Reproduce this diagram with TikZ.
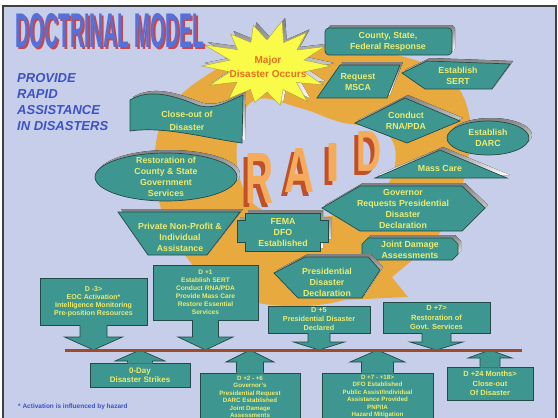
\documentclass[tikz,border=0pt]{standalone}
\usepackage{graphicx}
\usepackage{fontspec}
\setmainfont{Liberation Sans}
\usetikzlibrary{calc}
\definecolor{slide}{RGB}{198,206,234}
\definecolor{boxteal}{RGB}{62,150,144}
\definecolor{boxedge}{RGB}{36,74,72}
\definecolor{boxtext}{RGB}{236,236,110}
\definecolor{swirl}{RGB}{232,170,62}
\definecolor{shade}{RGB}{140,142,152}
\definecolor{titleblue}{RGB}{84,112,218}
\definecolor{titlered}{RGB}{205,70,70}
\definecolor{slogan}{RGB}{62,82,196}
\definecolor{starfill}{RGB}{250,250,72}
\definecolor{startext}{RGB}{228,112,30}
\definecolor{raidface}{RGB}{244,172,92}
\definecolor{raidside}{RGB}{192,80,40}
\definecolor{railbrown}{RGB}{156,76,44}
\tikzset{
  shp/.style={fill=boxteal, draw=boxedge, line width=0.7pt},
  lbl/.style={text=boxtext, font=\bfseries\fontsize{8.8}{11}\selectfont, align=center, inner sep=0pt},
  daybox/.style={shp, text=boxtext, font=\bfseries\fontsize{6.6}{8}\selectfont, align=center, inner sep=0pt},
}
\def\shadowed#1{\fill[shade,shift={(3,-3)}] #1; \filldraw[shp] #1;}
\def\raildown(#1)(#2:#3:#4){%
  \coordinate (#1-tip) at (#1.south |- rail);
  \fill[boxteal] ($(#1.south)+(-#2,-1)$) -- ($(#1-tip)+(-#2,-#4)$) -- ($(#1-tip)+(-#3,-#4)$) -- (#1-tip) -- ($(#1-tip)+(#3,-#4)$) -- ($(#1-tip)+(#2,-#4)$) -- ($(#1.south)+(#2,-1)$) -- cycle;
  \draw[boxedge, line width=0.7pt] ($(#1.south)+(-#2,0)$) -- ($(#1-tip)+(-#2,-#4)$) -- ($(#1-tip)+(-#3,-#4)$) -- (#1-tip) -- ($(#1-tip)+(#3,-#4)$) -- ($(#1-tip)+(#2,-#4)$) -- ($(#1.south)+(#2,0)$);}
\def\railup(#1)(#2:#3:#4){%
  \coordinate (#1-tip) at (#1.north |- rail);
  \fill[boxteal] ($(#1.north)+(-#2,1)$) -- ($(#1-tip)+(-#2,#4)$) -- ($(#1-tip)+(-#3,#4)$) -- (#1-tip) -- ($(#1-tip)+(#3,#4)$) -- ($(#1-tip)+(#2,#4)$) -- ($(#1.north)+(#2,1)$) -- cycle;
  \draw[boxedge, line width=0.7pt] ($(#1.north)+(-#2,0)$) -- ($(#1-tip)+(-#2,#4)$) -- ($(#1-tip)+(-#3,#4)$) -- (#1-tip) -- ($(#1-tip)+(#3,#4)$) -- ($(#1-tip)+(#2,#4)$) -- ($(#1.north)+(#2,0)$);}

\begin{document}
\begin{tikzpicture}[x=1pt, y=-1pt]
	%%%%% START %%%%%
	\useasboundingbox (0,0) rectangle (558,418);
	\fill[white] (0,0) rectangle (558,418);
	\fill[slide] (4,7) rectangle (556,418);
	\draw[black!75, line width=1.5pt] (3,418) -- (3,6) -- (556,6) -- (556,418);
	
	% swirl
	\fill[swirl, even odd rule] plot[smooth cycle, tension=0.7] coordinates {(300,47) (380,52) (440,72) (468,110) (466,170) (445,225) (410,262) (360,295) (290,306) (225,292) (185,255) (160,205) (155,150) (172,105) (215,70) (255,52)}
		plot[smooth cycle, tension=0.7] coordinates {(255,100) (300,108) (340,122) (385,132) (395,165) (375,198) (330,216) (270,213) (242,185) (238,135)};
	\fill[swirl] (370,250) -- (408,297) -- (300,302) -- cycle;
	
	% RAID
	\foreach \ch/\x/\y/\w/\h in {R/260/178/28/50, A/300/170/30/44, I/333/162/15/38, D/369/151/25/40} {
		\node[text=raidside, inner sep=0pt] (raid\ch-side) at ({\x-4},{\y+4}) {\resizebox{\w pt}{\h pt}{\bfseries\ch}};
		\node[text=raidface, inner sep=0pt] (raid\ch) at (\x,\y) {\resizebox{\w pt}{\h pt}{\bfseries\ch}};
	}
	
	% star
	\def\starpath{(331,66) -- (304,71.9) -- (323.4,84.9) -- (296.5,82.4) -- (307.2,101.4) -- (283.1,89.6) -- (280.2,105.4) -- (267,92) -- (254.8,102.4) -- (250.4,89.4) -- (228.8,98.5) -- (237.1,82) -- (209.5,85.3) -- (230,71.9) -- (201.7,66) -- (230,60.1) -- (204.9,45.2) -- (237.5,49.6) -- (230.7,34.1) -- (250.9,42.4) -- (253.3,25.3) -- (267,40) -- (282.1,21) -- (283.6,42.6) -- (306.5,32.5) -- (297,50) -- (324.5,46.7) -- (304,60.1) -- cycle}
	\fill[shade, shift={(3,-3)}] \starpath;
	\filldraw[fill=starfill, draw=yellow!60!black, line width=0.4pt] \starpath;
	\node[text=startext, font=\bfseries\fontsize{10}{14}\selectfont, align=center, inner sep=0pt] (major) at (268,67) {Major\\Disaster Occurs};
	
	% title
	\node[text=titlered, inner sep=0pt] (titleshadow) at (112,33) {\resizebox{188pt}{34pt}{\bfseries DOCTRINAL MODEL}};
	\node[text=titleblue, inner sep=0pt] (title) at (110,31) {\resizebox{188pt}{34pt}{\bfseries DOCTRINAL MODEL}};
	\node[text=slogan, font=\bfseries\itshape\fontsize{13}{16}\selectfont, align=left, anchor=north west, inner sep=0pt] (slogan) at (17,73) {PROVIDE\\RAPID\\ASSISTANCE\\IN DISASTERS};
	
	% shapes round the swirl
	\shadowed{[rounded corners=4pt] (325,28) rectangle (452,55)}
	\node[lbl] (county) at (388,41.5) {County, State,\\Federal Response};
	
	\shadowed{(340,65) -- (400,65) -- (387,98) -- (317,98) -- cycle}
	\node[lbl] (msca) at (358,82) {Request\\MSCA};
	
	\shadowed{(402,73) -- (427,61) -- (510,64) -- (492,89) -- (425,89) -- cycle}
	\node[lbl] (sert) at (458,76) {Establish\\SERT};
	
	\shadowed{(355,123) -- (405,98) -- (460,121) -- (407,143) -- cycle}
	\node[lbl] (rna) at (406,121) {Conduct\\RNA/PDA};
	
	\shadowed{(488,138) ellipse [x radius=41, y radius=17]}
	\node[lbl] (darc) at (488,138) {Establish\\DARC};
	
	\shadowed{(375,178) -- (440,150) -- (507,178) -- cycle}
	\node[lbl] (masscare) at (440,168) {Mass Care};
	
	\shadowed{(322,208) -- (360,186) -- (462,186) -- (485,208) -- (462,231) -- (360,231) -- cycle}
	\node[lbl] (governor) at (403,209) {Governor\\Requests Presidential\\Disaster\\Declaration};
	
	\shadowed{(368,238) -- (452,238) -- (458,244) -- (458,254) -- (452,260) -- (368,260) -- (362,254) -- (362,244) -- cycle}
	\node[lbl] (joint) at (410,249.5) {Joint Damage\\Assessments};
	
	\shadowed{(274,273) -- (305,257) -- (368,257) -- (380,270) -- (362,298) -- (298,298) -- cycle}
	\node[lbl] (presdecl) at (327,282) {Presidential\\Disaster\\Declaration};
	
	\shadowed{(245,213) -- (320,213) -- (320,220) -- (328,220) -- (328,242) -- (320,242) -- (320,251) -- (245,251) -- (245,242) -- (237,242) -- (237,220) -- (245,220) -- cycle}
	\node[lbl] (fema) at (283,233) {FEMA\\DFO\\Established};
	
	\shadowed{(118,212) -- (240,212) -- (207,255) -- (148,255) -- cycle}
	\node[lbl] (privnp) at (180,237) {Private Non-Profit \&\\Individual\\Assistance};
	
	\shadowed{(166,177) ellipse [x radius=71, y radius=24]}
	\node[lbl] (restore) at (166,177) {Restoration of\\County \& State\\Government\\Services};
	
	\shadowed{(130,100) .. controls (150,88) and (175,96) .. (197,105) .. controls (215,111) and (230,100) .. (243,95) -- (242,143) .. controls (205,138) and (165,126) .. (130,131) -- cycle}
	\node[lbl, font=\bfseries\fontsize{8.8}{13}\selectfont] (closeout) at (187,121) {Close-out of\\Disaster};
	
	% time line
	\coordinate (rail) at (0,350);
	\coordinate (railstart) at (65,350);
	\coordinate (railend) at (522,350);
	
	\node[daybox, font=\bfseries\fontsize{7}{8}\selectfont, minimum width=107pt, minimum height=47pt] (dminus) at (93.5,301.5) {D -3>\\EOC Activation*\\Intelligence Monitoring\\Pre-position Resources};
	\node[daybox, minimum width=105pt, minimum height=55pt] (dplusone) at (205.5,292.5) {D +1\\Establish SERT\\Conduct RNA/PDA\\Provide Mass Care\\Restore Essential\\Services};
	\node[daybox, font=\bfseries\fontsize{7.3}{9}\selectfont, minimum width=102pt, minimum height=27pt] (dplusfive) at (319,319.5) {D +5\\Presidential Disaster\\Declared};
	\node[daybox, font=\bfseries\fontsize{7.5}{9.5}\selectfont, minimum width=107pt, minimum height=31pt] (dplusseven) at (436.5,317.5) {D +7>\\Restoration of\\Govt. Services};
	\node[daybox, font=\bfseries\fontsize{8}{9.5}\selectfont, minimum width=100pt, minimum height=24pt] (dzero) at (140,375) {0-Day\\Disaster Strikes};
	\node[daybox, font=\bfseries\fontsize{6.2}{7.5}\selectfont, minimum width=100pt, minimum height=48pt] (dplustwo) at (250,397) {D +2 - +6\\Governor's\\Presidential Request\\DARC Established\\Joint Damage\\Assessments};
	\node[daybox, font=\bfseries\fontsize{6.2}{7.4}\selectfont, minimum width=111pt, minimum height=47pt] (dpluseighteen) at (377.5,396.5) {D +7 - +18>\\DFO Established\\Public Assist/Individual\\Assistance Provided\\PNP/IA\\Hazard Mitigation};
	\node[daybox, font=\bfseries\fontsize{7.5}{9.5}\selectfont, minimum width=86pt, minimum height=33pt] (dplusyear) at (490,383.5) {D +24 Months>\\Close-out\\Of Disaster};
	
	\raildown(dminus)(13.5:29:13)
	\raildown(dplusone)(13:27.5:13)
	\raildown(dplusfive)(11:25.5:8)
	\raildown(dplusseven)(14.5:26.5:8)
	\railup(dzero)(12.5:25:11)
	\railup(dplustwo)(13.5:24:12)
	\railup(dpluseighteen)(16:27.5:12)
	\railup(dplusyear)(10:22:8)
	
	\draw[railbrown, line width=3pt] (railstart) -- (railend);
	
	\node[text=slogan, font=\bfseries\fontsize{6.5}{8}\selectfont, anchor=west, inner sep=0pt] (note) at (18,407) {* Activation is influenced by hazard};
	%%%%% END %%%%%
\end{tikzpicture}
\end{document}
